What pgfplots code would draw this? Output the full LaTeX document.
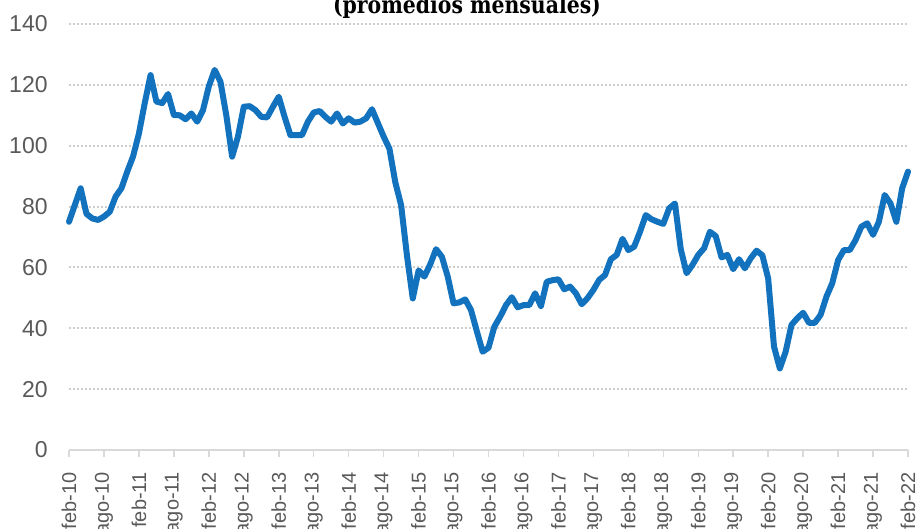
\documentclass[border=0pt]{standalone}
\usepackage{pgfplots}
\pgfplotsset{compat=1.18}
\usepackage{fontspec}
\setmainfont{Liberation Sans}
\newfontfamily\titlefont[FakeStretch=0.85]{DejaVu Serif}
\definecolor{lineblue}{RGB}{18,114,190}
\definecolor{gridgrey}{RGB}{205,205,205}
\definecolor{axisgrey}{RGB}{217,217,217}
\definecolor{labelgrey}{RGB}{89,89,89}
\pgfplotstableread{
idx val
0 75
1 80.5
2 86
3 77.6
4 76.1
5 75.6
6 76.7
7 78.3
8 83.3
9 86
10 91.5
11 96.5
12 104
13 114
14 123.2
15 114.5
16 114
17 117
18 110.1
19 110
20 108.7
21 110.6
22 107.9
23 111.7
24 119.5
25 124.9
26 121
27 110
28 96.4
29 103
30 112.8
31 113
32 111.7
33 109.5
34 109.3
35 112.8
36 116.1
37 109.5
38 103.5
39 103.5
40 103.5
41 107.9
42 110.9
43 111.4
44 109.5
45 107.9
46 110.6
47 107.3
48 109
49 107.6
50 107.9
51 109
52 112
53 107.5
54 103
55 99
56 88
57 80.5
58 64
59 49.8
60 59
61 57
62 61
63 66
64 63.5
65 57
66 48.2
67 48.5
68 49.5
69 46
70 39
71 32.3
72 33.6
73 40.5
74 43.8
75 47.6
76 50.2
77 46.9
78 47.6
79 47.6
80 51.5
81 47.3
82 55.3
83 55.8
84 56.1
85 52.8
86 53.7
87 51.5
88 47.9
89 49.9
90 52.6
91 55.9
92 57.5
93 62.7
94 64.1
95 69.4
96 65.7
97 66.8
98 71.7
99 77.2
100 75.8
101 75
102 74.3
103 79.4
104 81
105 66
106 58.1
107 60.8
108 64.1
109 66.3
110 71.7
111 70.3
112 63.3
113 64.1
114 59.4
115 62.7
116 59.7
117 63
118 65.5
119 64
120 56.4
121 34
122 26.8
123 32.3
124 41.1
125 43.3
126 45.1
127 41.8
128 41.8
129 44.4
130 50.4
131 54.8
132 62.4
133 65.7
134 65.7
135 69
136 73.4
137 74.5
138 70.7
139 75
140 83.8
141 81
142 75
143 86
144 91.5
}\datatable
\begin{document}
\begin{tikzpicture}
\begin{axis}[
  at={(0,0)}, anchor=south west,
  scale only axis, width=419.5pt, height=213pt,
  xmin=0, xmax=144, ymin=0, ymax=140,
  axis x line*=bottom, axis y line*=left,
  x axis line style={draw=axisgrey, line width=0.75pt, -},
  y axis line style={draw=none},
  xtick={0,6,...,144},
  xticklabels={feb-10,ago-10,feb-11,ago-11,feb-12,ago-12,feb-13,ago-13,feb-14,ago-14,feb-15,ago-15,feb-16,ago-16,feb-17,ago-17,feb-18,ago-18,feb-19,ago-19,feb-20,ago-20,feb-21,ago-21,feb-22},
  ytick={0,20,...,140},
  tick align=outside,
  major tick length=3.5pt,
  x tick style={draw=axisgrey, line width=0.75pt},
  y tick style={draw=none},
  ymajorgrids,
  major grid style={draw=gridgrey, line width=1pt, dash pattern=on 1pt off 1pt},
  tick label style={text=labelgrey, inner sep=0pt},
  xticklabel style={font=\fontsize{10}{12}\selectfont, rotate=90, anchor=east},
  yticklabel style={font=\fontsize{11.5}{13}\selectfont},
  /pgf/number format/assume math mode=true,
  xticklabel shift=7.5pt,
  yticklabel shift=7pt,
  clip=false,
]
\addplot[lineblue, line width=3pt, line join=round, line cap=round] table[x=idx, y=val] {\datatable};
\end{axis}
\node[font=\titlefont\bfseries\fontsize{12}{14}\selectfont, anchor=base] at (199pt,218pt) {(promedios mensuales)};
\pgfresetboundingbox
\useasboundingbox (-34.5pt,-39.5pt) rectangle (423.5pt,225pt);
\end{tikzpicture}
\end{document}
